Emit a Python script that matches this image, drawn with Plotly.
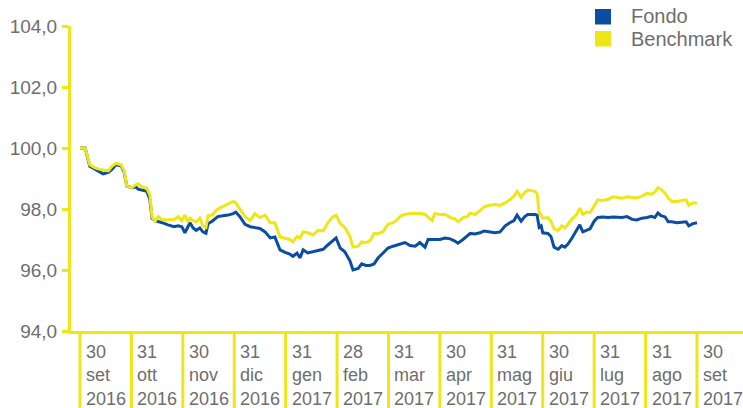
import plotly.graph_objects as go

# time axis: months elapsed since 30 Sep 2016 (each month-end = one unit)
months_elapsed = [
    0.00, 0.10, 0.19, 0.29, 0.39, 0.45, 0.55, 0.62, 0.70, 0.80, 0.86, 0.91, 1.01, 1.09, 1.13,
    1.21, 1.30, 1.36, 1.40, 1.46, 1.52, 1.60, 1.71, 1.83, 1.91, 1.98, 2.04, 2.10, 2.14, 2.20,
    2.26, 2.33, 2.39, 2.45, 2.49, 2.57, 2.68, 2.78, 2.88, 2.98, 3.03, 3.11, 3.21, 3.31, 3.40,
    3.50, 3.60, 3.70, 3.79, 3.89, 3.99, 4.08, 4.14, 4.22, 4.28, 4.34, 4.43, 4.53, 4.63, 4.73,
    4.82, 4.90, 4.98, 5.06, 5.15, 5.25, 5.31, 5.41, 5.48, 5.56, 5.64, 5.72, 5.80, 5.89, 5.99,
    6.09, 6.17, 6.24, 6.32, 6.42, 6.52, 6.61, 6.71, 6.77, 6.85, 6.90, 7.00, 7.10, 7.20, 7.29,
    7.35, 7.45, 7.53, 7.59, 7.68, 7.78, 7.86, 7.97, 8.07, 8.17, 8.27, 8.36, 8.44, 8.50, 8.58,
    8.65, 8.71, 8.85, 8.89, 8.93, 8.97, 9.00, 9.10, 9.16, 9.22, 9.30, 9.37, 9.43, 9.49, 9.57,
    9.65, 9.72, 9.78, 9.86, 9.92, 10.00, 10.07, 10.17, 10.27, 10.37, 10.46, 10.54, 10.64, 10.74,
    10.83, 10.93, 11.03, 11.11, 11.18, 11.24, 11.30, 11.38, 11.44, 11.51, 11.61, 11.71, 11.79,
    11.84, 11.92, 12.00,
]

fondo = [
    100.00, 100.00, 99.40, 99.30, 99.22, 99.15, 99.20, 99.30, 99.45, 99.42, 99.20, 98.75, 98.70, 98.72, 98.65,
    98.62, 98.58, 98.30, 97.70, 97.62, 97.60, 97.55, 97.48, 97.42, 97.45, 97.42, 97.22, 97.45, 97.55, 97.38,
    97.30, 97.38, 97.25, 97.20, 97.52, 97.60, 97.75, 97.78, 97.80, 97.85, 97.90, 97.75, 97.50, 97.42, 97.38,
    97.36, 97.25, 97.05, 97.08, 96.66, 96.58, 96.52, 96.45, 96.55, 96.40, 96.66, 96.56, 96.60, 96.62, 96.68,
    96.82, 96.95, 97.05, 96.72, 96.60, 96.30, 96.00, 96.05, 96.20, 96.15, 96.15, 96.20, 96.40, 96.55, 96.72,
    96.78, 96.82, 96.88, 96.90, 96.80, 96.78, 96.90, 96.75, 97.00, 97.00, 96.98, 97.00, 97.05, 97.02, 96.95,
    96.88, 97.00, 97.10, 97.20, 97.18, 97.22, 97.28, 97.25, 97.22, 97.25, 97.45, 97.55, 97.62, 97.80, 97.60,
    97.75, 97.82, 97.82, 97.80, 97.40, 97.45, 97.22, 97.20, 97.10, 96.75, 96.68, 96.80, 96.75, 96.85, 97.05,
    97.30, 97.48, 97.25, 97.30, 97.35, 97.60, 97.72, 97.74, 97.72, 97.74, 97.72, 97.72, 97.75, 97.66,
    97.64, 97.70, 97.72, 97.76, 97.72, 97.87, 97.78, 97.74, 97.58, 97.58, 97.55, 97.56, 97.58,
    97.45, 97.52, 97.55,
]

benchmark = [
    100.00, 100.00, 99.45, 99.35, 99.30, 99.28, 99.25, 99.40, 99.50, 99.45, 99.25, 98.75, 98.70, 98.80, 98.82,
    98.72, 98.68, 98.45, 97.75, 97.60, 97.75, 97.65, 97.65, 97.65, 97.75, 97.62, 97.80, 97.58, 97.70, 97.62,
    97.58, 97.70, 97.45, 97.40, 97.78, 97.80, 98.00, 98.08, 98.15, 98.25, 98.20, 98.00, 97.75, 97.62, 97.85,
    97.72, 97.80, 97.55, 97.55, 97.08, 97.05, 97.00, 96.92, 97.10, 97.05, 97.25, 97.22, 97.15, 97.30, 97.28,
    97.55, 97.72, 97.80, 97.52, 97.40, 97.10, 96.75, 96.78, 96.92, 96.90, 96.95, 97.20, 97.20, 97.25, 97.50,
    97.55, 97.65, 97.78, 97.82, 97.85, 97.85, 97.86, 97.82, 97.72, 97.62, 97.85, 97.82, 97.83, 97.72, 97.68,
    97.58, 97.72, 97.75, 97.87, 97.82, 97.95, 98.07, 98.12, 98.15, 98.12, 98.20, 98.30, 98.42, 98.58, 98.38,
    98.55, 98.62, 98.58, 98.50, 97.90, 97.80, 97.70, 97.72, 97.60, 97.35, 97.30, 97.45, 97.38, 97.50, 97.68,
    97.80, 98.03, 97.82, 97.90, 97.88, 98.10, 98.30, 98.28, 98.32, 98.40, 98.38, 98.35, 98.40, 98.38,
    98.36, 98.42, 98.52, 98.48, 98.55, 98.70, 98.65, 98.52, 98.36, 98.25, 98.25, 98.28, 98.30,
    98.12, 98.20, 98.20,
]

month_end_labels = [
    "30<br>set<br>2016", "31<br>ott<br>2016", "30<br>nov<br>2016", "31<br>dic<br>2016",
    "31<br>gen<br>2017", "28<br>feb<br>2017", "31<br>mar<br>2017", "30<br>apr<br>2017",
    "31<br>mag<br>2017", "30<br>giu<br>2017", "31<br>lug<br>2017", "31<br>ago<br>2017",
    "30<br>set<br>2017",
]

series_names = ["Fondo", "Benchmark"]
y_ticks = [94, 96, 98, 100, 102, 104]

BLUE = "#0B4DA2"
YELLOW = "#EEE617"
GREY = "#6E6E6E"
FONT = "Liberation Sans, Arial, sans-serif"

W, H = 743, 408
ML, MT, MB = 71, 26, 77
plot_w = W - ML
plot_h = H - MT - MB

fig = go.Figure()
fig.add_trace(go.Scatter(x=months_elapsed, y=fondo, mode="lines", name=series_names[0],
                         line=dict(color=BLUE, width=3), showlegend=False))
fig.add_trace(go.Scatter(x=months_elapsed, y=benchmark, mode="lines", name=series_names[1],
                         line=dict(color=YELLOW, width=3), showlegend=False))

shapes = []
annotations = []
for i, lab in enumerate(month_end_labels):
    shapes.append(dict(type="line", xref="x", yref="paper", x0=i, x1=i,
                       y0=0, y1=-MB / plot_h, line=dict(color=YELLOW, width=3)))
    annotations.append(dict(x=i, y=-9 / plot_h, xref="x", yref="paper", text=lab,
                            showarrow=False, xanchor="left", yanchor="top", xshift=4,
                            align="left", font=dict(size=18, color=GREY, family=FONT)))

# legend (square swatches + labels) in the top-right corner
def px_x(px):
    return (px - ML) / plot_w

def px_y(py):
    return (MT + plot_h - py) / plot_h

for k, (name, col) in enumerate(zip(series_names, [BLUE, YELLOW])):
    top = 9 + k * 22
    shapes.append(dict(type="rect", xref="paper", yref="paper",
                       x0=px_x(595), x1=px_x(611), y0=px_y(top + 15.5), y1=px_y(top),
                       fillcolor=col, line=dict(width=0)))
    annotations.append(dict(x=px_x(629), y=px_y(top + 7.5), xref="paper", yref="paper",
                            text=name, showarrow=False, xanchor="left", yanchor="middle",
                            font=dict(size=20, color=GREY, family=FONT)))

fig.update_layout(
    width=W, height=H,
    margin=dict(l=ML, r=0, t=MT, b=MB),
    paper_bgcolor="white", plot_bgcolor="white",
    separators=",.",
    font=dict(family=FONT, size=18, color=GREY),
    shapes=shapes, annotations=annotations,
    showlegend=False,
    xaxis=dict(range=[-0.175, 12.895], showgrid=False, zeroline=False,
               showticklabels=False, ticks="", showline=True, linecolor=YELLOW,
               linewidth=3),
    yaxis=dict(range=[94, 104], tickvals=y_ticks, tickformat=".1f", showgrid=False,
               zeroline=False, showline=True, linecolor=YELLOW, linewidth=3,
               ticks="outside", ticklen=6, tickwidth=3, tickcolor=YELLOW,
               ticklabelstandoff=1,
               tickfont=dict(size=19, color=GREY, family=FONT)),
)

fig.write_html("out.html", config={"displayModeBar": False},
               post_script="document.body.style.margin='0';document.body.style.padding='0';")
